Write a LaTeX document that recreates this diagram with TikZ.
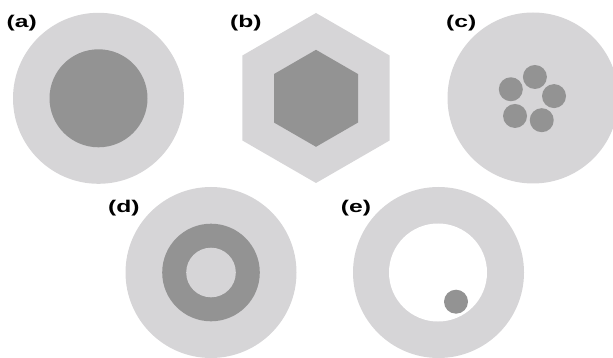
\documentclass[tikz,border=0pt]{standalone}
\usepackage{graphicx}
\usepackage{fontspec}
\setmainfont{Liberation Sans}
\definecolor{lightg}{HTML}{D6D5D7}
\definecolor{darkg}{HTML}{939393}
\newcommand{\lbltext}[1]{\scalebox{1.45}[1]{#1}}
\begin{document}
\begin{tikzpicture}[x=1pt,y=-1pt,
  lightfill/.style={fill=lightg,draw=none},
  darkfill/.style={fill=darkg,draw=none},
  whitefill/.style={fill=white,draw=none},
  lbl/.style={anchor=base west,inner sep=0pt,font=\bfseries\fontsize{17}{17}\selectfont}]
\useasboundingbox (0,0) rectangle (613,358);
% (a)
\fill[lightfill] (98.5,98.3) circle (85.5);
\fill[darkfill] (98.5,98.3) circle (49);
\node[lbl] (la) at (6.5,27.3) {\lbltext{(a)}};
% (b)
\fill[lightfill] (316,98) +(90:85) -- +(150:85) -- +(210:85) -- +(270:85) -- +(330:85) -- +(30:85) -- cycle;
\fill[darkfill] (316,98.3) +(90:48.5) -- +(150:48.5) -- +(210:48.5) -- +(270:48.5) -- +(330:48.5) -- +(30:48.5) -- cycle;
\node[lbl] (lb) at (230,27.3) {\lbltext{(b)}};
% (c)
\fill[lightfill] (533,98) circle (85.5);
\foreach \a in {9,81,153,225,297}
  \fill[darkfill] (531.3,99.7) ++(-\a:23) circle (12);
\node[lbl] (lc) at (446,27.3) {\lbltext{(c)}};
% (d)
\fill[lightfill] (211,272.5) circle (85.5);
\fill[darkfill] (211,272.5) circle (48.8);
\fill[lightfill] (211,272.5) circle (24.8);
\node[lbl] (ld) at (108,212.7) {\lbltext{(d)}};
% (e)
\fill[lightfill] (438.5,272.5) circle (85.5);
\fill[whitefill] (438,272.5) circle (49);
\fill[darkfill] (456,301.7) circle (12);
\node[lbl] (le) at (340.7,212.7) {\lbltext{(e)}};
\end{tikzpicture}
\end{document}
